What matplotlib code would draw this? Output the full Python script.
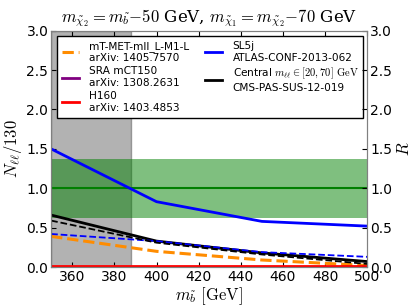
import numpy as np
import matplotlib.pyplot as plt

plt.rcParams['mathtext.fontset'] = 'cm'
plt.rcParams['xtick.direction'] = 'in'
plt.rcParams['ytick.direction'] = 'in'

# sbottom mass points
msb = [350, 400, 450, 500]
# R values (right axis, same scale as left)
sl5j = [1.50, 0.83, 0.58, 0.52]
cms = [0.66, 0.33, 0.18, 0.07]
# N_ll/130 (dashed)
cms_n = [0.59, 0.31, 0.16, 0.04]
sl5j_n = [0.42, 0.33, 0.19, 0.13]
mt_met = [0.39, 0.20, 0.09, 0.02]
h160 = [0.01, 0.01, 0.01, 0.01]
sra = [0.0, 0.0, 0.0, 0.0]

excluded = (350, 388)
band = (0.62, 1.37)

fig = plt.figure(figsize=(4.09, 3.07), dpi=100)
ax = fig.add_axes([0.125, 0.13, 0.773, 0.77])
ax.axvspan(*excluded, facecolor='gray', edgecolor='dimgray', alpha=0.6, zorder=0)
ax.axhspan(*band, color='green', alpha=0.5, lw=0, zorder=0)
ax.axhline(1.0, color='green', lw=1.5)

ax.plot(msb, mt_met, '--', color='darkorange', lw=2.2, label='mT-MET-mll_L-M1-L\narXiv: 1405.7570')
ax.plot(msb, sra, '-', color='purple', lw=2, label='SRA mCT150\narXiv: 1308.2631')
ax.plot(msb, h160, '-', color='red', lw=2, label='H160\narXiv: 1403.4853')
ax.plot(msb, sl5j, '-', color='blue', lw=2, label='SL5j\nATLAS-CONF-2013-062')
ax.plot(msb, cms, '-', color='black', lw=2,
        label='Central $m_{\\ell\\ell}\\in[20,70]\\ \\mathrm{GeV}$\nCMS-PAS-SUS-12-019')
ax.plot(msb, sl5j_n, '--', color='blue', lw=1.3)
ax.plot(msb, cms_n, '--', color='black', lw=1.3)

ax.set_xlim(350, 500)
ax.set_ylim(0, 3)
ax.set_xticks(range(360, 501, 20))
ax.set_ylabel('$N_{\\ell\\ell}/130$', fontsize=12, labelpad=2)
ax.set_xlabel('$m_{\\tilde{b}}\\ [\\mathrm{GeV}]$', fontsize=12, labelpad=1)
ax.set_title('$m_{\\tilde{\\chi}_2}=m_{\\tilde{b}}{-}50$ GeV, $m_{\\tilde{\\chi}_1}=m_{\\tilde{\\chi}_2}{-}70$ GeV',
             fontsize=12, family='serif')
for s in ax.spines.values():
    s.set_color('gray')
ax.tick_params(top=True, labelsize=10, pad=2)
ax.legend(loc='upper center', ncol=2, fontsize=7.6, handlelength=1.6, fancybox=False,
          edgecolor='black', framealpha=1, labelspacing=0.3, borderpad=0.45,
          handletextpad=1.0, columnspacing=1.5, bbox_to_anchor=(0.503, 1.0))

ax2 = ax.twinx()
ax2.set_ylim(0, 3)
ax2.set_ylabel('$R$', fontsize=12, labelpad=2)
ax2.tick_params(labelsize=10, pad=2)
for s in ax2.spines.values():
    s.set_color('gray')

fig.savefig('out.png')
